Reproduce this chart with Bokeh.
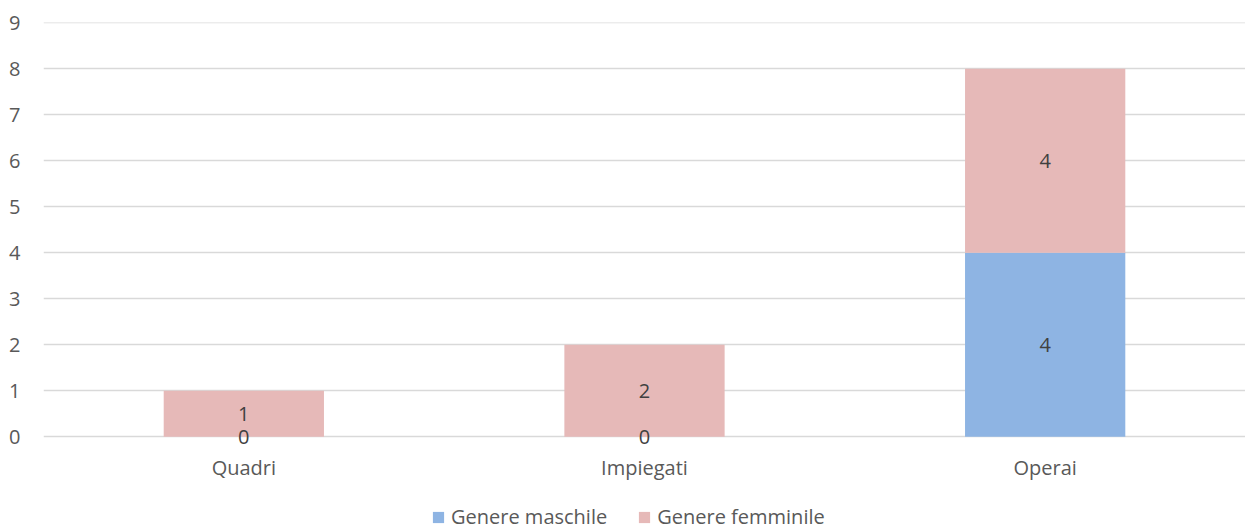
from bokeh.plotting import figure
from bokeh.models import ColumnDataSource, Legend, LegendItem, LabelSet, FixedTicker
from bokeh.core.properties import value
from bokeh.embed import file_html
from bokeh.resources import INLINE

categories = ["Quadri", "Impiegati", "Operai"]
maschile = [0, 0, 4]
femminile = [1, 2, 4]
series_names = ["Genere maschile", "Genere femminile"]
colors = ["#8EB4E3", "#E6B9B8"]
yticks = list(range(0, 10))

FONT = "Open Sans"
TXT = "#595959"
FS = "20px"

# frame spans from the 9 gridline down to the bottom of the canvas,
# so that labels below zero and the legend are not clipped
PX_PER_UNIT = 414 / 9
FRAME_H = 508
Y_TOP = 9.005
Y_BOTTOM = Y_TOP - FRAME_H / PX_PER_UNIT

src = ColumnDataSource(dict(
    cat=categories,
    m=maschile,
    f=femminile,
    m_mid=[v / 2 for v in maschile],
    f_mid=[a + b / 2 for a, b in zip(maschile, femminile)],
    m_lab=[str(v) for v in maschile],
    f_lab=[str(v) for v in femminile],
    base=[0] * len(categories),
))

p = figure(x_range=categories, y_range=(Y_BOTTOM, Y_TOP), width=1245, height=530,
           frame_width=1202, frame_height=FRAME_H,
           output_backend="svg", toolbar_location=None,
           min_border_left=43, min_border_right=0, min_border_top=22, min_border_bottom=0)

r = p.vbar_stack(["m", "f"], x="cat", width=0.4, source=src, color=colors, line_color=None)

for col_y, col_t in (("m_mid", "m_lab"), ("f_mid", "f_lab")):
    ls = LabelSet(x="cat", y=col_y, text=col_t, source=src, text_align="center",
                  text_baseline="middle", text_font=value(FONT), text_font_size=value(FS),
                  text_color="#404040")
    p.add_layout(ls)

# category labels under the zero line
p.text(x="cat", y="base", text="cat", source=src, y_offset=31, text_align="center",
       text_baseline="middle", text_font=value(FONT), text_font_size=value(FS),
       text_color=TXT)

p.outline_line_color = None
p.xgrid.grid_line_color = None
p.xaxis.visible = False
p.ygrid.grid_line_color = "#D9D9D9"
p.ygrid.grid_line_width = 1.3
p.yaxis.ticker = FixedTicker(ticks=yticks)
p.yaxis.axis_line_color = None
p.yaxis.major_tick_line_color = None
p.yaxis.minor_tick_line_color = None
p.yaxis.major_label_standoff = 17
p.yaxis.major_label_text_font = FONT
p.yaxis.major_label_text_font_size = FS
p.yaxis.major_label_text_color = TXT

legend = Legend(items=[LegendItem(label=series_names[i], renderers=[r[i]]) for i in range(2)],
                orientation="horizontal", location=(388, 0),
                label_text_font=FONT, label_text_font_size=FS, label_text_color=TXT,
                glyph_width=14, glyph_height=14, label_standoff=6, spacing=30,
                border_line_color=None, background_fill_alpha=0, padding=0, margin=0,
                label_height=18)
p.add_layout(legend)

open("out.html", "w").write(file_html(p, INLINE))
